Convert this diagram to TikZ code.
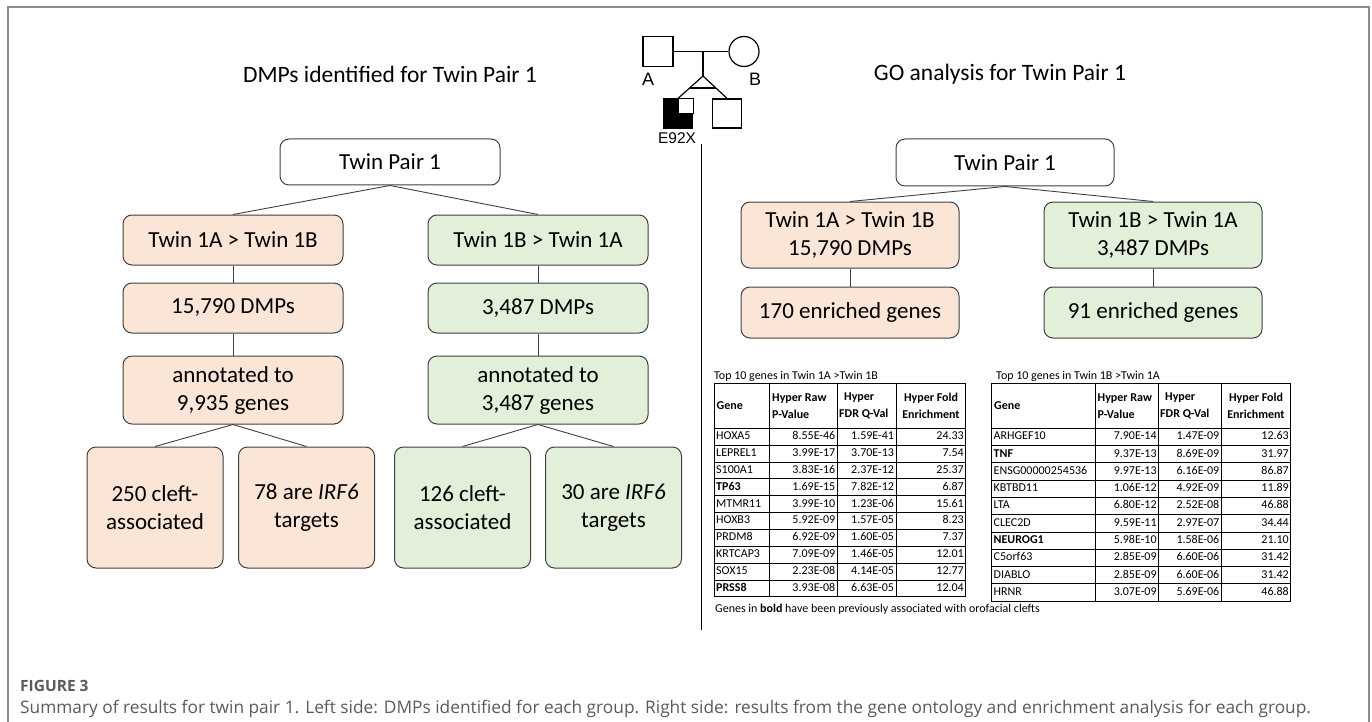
\documentclass[tikz,border=0pt]{standalone}
\usepackage{fontspec}
\setmainfont{Carlito}
\newfontfamily\pedfont{Liberation Sans}
\newfontfamily\capfont{Open Sans}
\usetikzlibrary{calc}
\definecolor{salmon}{HTML}{FBE5D6}
\definecolor{mint}{HTML}{E2F0D9}
\definecolor{edge}{HTML}{404040}
\definecolor{framegray}{HTML}{8C8C8C}
\definecolor{captext}{HTML}{5A5A5A}
\begin{document}
\begin{tikzpicture}[x=1pt,y=-1pt,
  box/.style={draw=edge, line width=1pt, rounded corners=9pt, align=center, inner sep=0pt,
              font=\fontsize{23}{28}\selectfont},
  plainbox/.style={box, fill=white},
  pinkbox/.style={box, fill=salmon},
  greenbox/.style={box, fill=mint},
  wide/.style={minimum width=220pt, minimum height=50pt},
  narrow/.style={minimum width=136pt, minimum height=121pt},
  link/.style={draw=edge, line width=0.9pt},
  ped/.style={draw=black, line width=1.2pt},
  heading/.style={font=\fontsize{23.5}{28}\selectfont},
  cell/.style={inner sep=0pt, text height=8.3pt, text depth=2.4pt, font=\fontsize{12}{14}\selectfont},
  headcell/.style={inner sep=0pt, font=\bfseries\fontsize{12}{17}\selectfont},
  tabline/.style={draw=black, line width=0.7pt},
]
\useasboundingbox (0,0) rectangle (1372,722);

% figure frame (open at the bottom)
\draw[framegray, line width=1.3pt] (8,722) -- (8,7) -- (1369,7) -- (1369,722);

% section headings
\node[heading] (ttlL) at (390,74) {DMPs identified for Twin Pair 1};
\node[heading] (ttlR) at (1000,74) {GO analysis for Twin Pair 1};

% ---------------- pedigree ----------------
\node[ped, minimum size=30pt, inner sep=0pt] (pA) at (658,51.5) {};
\node[ped, circle, minimum size=30pt, inner sep=0pt] (pB) at (744,51.5) {};
\draw[ped] (pA.east) -- (pB.west);
\coordinate (mate) at (703,51.5);
\coordinate (apex) at (703,76);
\node[ped, fill=black, minimum size=29pt, inner sep=0pt] (kid1) at (678,113.5) {};
\node[ped, minimum size=29pt, inner sep=0pt] (kid2) at (727,113.5) {};
\draw[ped, fill=white] (kid1.center) rectangle (kid1.north east);
\draw[ped] (mate) -- (apex);
\draw[ped] (apex) -- (kid1.north);
\draw[ped] (apex) -- (kid2.north);
\draw[ped] ($(apex)!0.535!(kid1.north)$) -- ($(apex)!0.535!(kid2.north)$);
\node[font=\pedfont\fontsize{18}{20}\selectfont] (labA) at (648,79) {A};
\node[font=\pedfont\fontsize{18}{20}\selectfont] (labB) at (755,79) {B};
\node[font=\pedfont\fontsize{15.5}{17}\selectfont] (labE) at (677,138) {E92X};
\coordinate (divTop) at (701.5,144);
\coordinate (divBot) at (701.5,630);
\draw[black, line width=1pt] (divTop) -- (divBot);

% ---------------- left tree: DMPs ----------------
\node[plainbox, minimum width=220pt, minimum height=46pt] (tpL) at (390,162) {Twin Pair 1};
\node[pinkbox, wide] (a1) at (233,240) {Twin 1A > Twin 1B};
\node[pinkbox, wide] (a2) at (233,308) {15,790 DMPs};
\node[pinkbox, wide, minimum height=68pt] (a3) at (233,390) {annotated to\\9,935 genes};
\node[pinkbox, narrow] (a4) at (155,507.5) {250 cleft-\\associated};
\node[pinkbox, narrow] (a5) at (306.5,507.5) {78 are \textit{IRF6}\\targets};

\node[greenbox, wide] (b1) at (538,240) {Twin 1B > Twin 1A};
\node[greenbox, wide] (b2) at (538,308) {3,487 DMPs};
\node[greenbox, wide, minimum height=68pt] (b3) at (538,390) {annotated to\\3,487 genes};
\node[greenbox, narrow] (b4) at (462.5,507.5) {126 cleft-\\associated};
\node[greenbox, narrow] (b5) at (613.5,507.5) {30 are \textit{IRF6}\\targets};

\draw[link] (tpL.south) -- (a1.north);
\draw[link] (tpL.south) -- (b1.north);
\draw[link] (a1) -- (a2);
\draw[link] (a2) -- (a3);
\draw[link] (a3.south) -- (a4.north);
\draw[link] (a3.south) -- (a5.north);
\draw[link] (b1) -- (b2);
\draw[link] (b2) -- (b3);
\draw[link] (b3.south) -- (b4.north);
\draw[link] (b3.south) -- (b5.north);

% ---------------- right tree: GO analysis ----------------
\node[plainbox, minimum width=218pt, minimum height=47pt] (tpR) at (1005,162.5) {Twin Pair 1};
\node[pinkbox, minimum width=218pt, minimum height=66pt, font=\fontsize{23}{28.5}\selectfont] (c1) at (850,235) {Twin 1A > Twin 1B\\15,790 DMPs};
\node[greenbox, minimum width=218pt, minimum height=66pt, font=\fontsize{23}{28.5}\selectfont] (c2) at (1153,235) {Twin 1B > Twin 1A\\3,487 DMPs};
\node[pinkbox, minimum width=218pt, minimum height=51pt] (c3) at (850,312.5) {170 enriched genes};
\node[greenbox, minimum width=218pt, minimum height=51pt] (c4) at (1153,312.5) {91 enriched genes};
\draw[link] (tpR.south) -- (c1.north);
\draw[link] (tpR.south) -- (c2.north);
\draw[link] (c1) -- (c3);
\draw[link] (c2) -- (c4);

% ---------------- table: Twin 1A > Twin 1B ----------------
\node[cell, anchor=west] (tabLttl) at (714,377) {Top 10 genes in Twin 1A >Twin 1B};
\draw[tabline] (714,383.3) rectangle (965.7,596.7);
\foreach \x in {769.3,837.3,896} \draw[tabline] (\x,383.3) -- (\x,596.7);
\foreach \k in {0,...,9} \draw[tabline] (714,{428.3+\k*16.84}) -- (965.7,{428.3+\k*16.84});
\node[headcell, anchor=west] (hL0) at (716.5,405.8) {Gene};
\node[headcell, anchor=west, align=left] (hL1) at (772,405.8) {Hyper Raw\\P-Value};
\node[headcell, anchor=west, align=left] (hL2) at (839,405.8) {\hspace{5pt}Hyper\\FDR Q-Val};
\node[headcell, align=center] (hL3) at (931,405.8) {Hyper Fold\\Enrichment};
\foreach \g/\p/\q/\f [count=\i] in {HOXA5/8.55E-46/1.59E-41/24.33,
    LEPREL1/3.99E-17/3.70E-13/7.54,
    S100A1/3.83E-16/2.37E-12/25.37,
    \textbf{TP63}/1.69E-15/7.82E-12/6.87,
    MTMR11/3.99E-10/1.23E-06/15.61,
    HOXB3/5.92E-09/1.57E-05/8.23,
    PRDM8/6.92E-09/1.60E-05/7.37,
    KRTCAP3/7.09E-09/1.46E-05/12.01,
    SOX15/2.23E-08/4.14E-05/12.77,
    \textbf{PRSS8}/3.93E-08/6.63E-05/12.04}{
  \pgfmathsetmacro\yy{428.3+(\i-0.5)*16.84}
  \node[cell, anchor=west] (gL\i) at (716,\yy) {\g};
  \node[cell, anchor=east] (pL\i) at (835.5,\yy) {\p};
  \node[cell, anchor=east] (qL\i) at (894.2,\yy) {\q};
  \node[cell, anchor=east] (fL\i) at (964,\yy) {\f};
}
\node[cell, anchor=west] (note) at (715,610) {Genes in \textbf{bold} have been previously associated with orofacial clefts};

% ---------------- table: Twin 1B > Twin 1A ----------------
\node[cell, anchor=west] (tabRttl) at (996,377) {Top 10 genes in Twin 1B >Twin 1A};
\draw[tabline] (991.7,383.3) rectangle (1290.7,601);
\foreach \x in {1095,1158.3,1221} \draw[tabline] (\x,383.3) -- (\x,601);
\foreach \k in {0,...,9} \draw[tabline] (991.7,{428.3+\k*17.27}) -- (1290.7,{428.3+\k*17.27});
\node[headcell, anchor=west] (hR0) at (994,405.8) {Gene};
\node[headcell, anchor=west, align=left] (hR1) at (1097.5,405.8) {Hyper Raw\\P-Value};
\node[headcell, anchor=west, align=left] (hR2) at (1160,405.8) {\hspace{5pt}Hyper\\FDR Q-Val};
\node[headcell, align=center] (hR3) at (1256,405.8) {Hyper Fold\\Enrichment};
\foreach \g/\p/\q/\f [count=\i] in {ARHGEF10/7.90E-14/1.47E-09/12.63,
    \textbf{TNF}/9.37E-13/8.69E-09/31.97,
    ENSG00000254536/9.97E-13/6.16E-09/86.87,
    KBTBD11/1.06E-12/4.92E-09/11.89,
    LTA/6.80E-12/2.52E-08/46.88,
    CLEC2D/9.59E-11/2.97E-07/34.44,
    \textbf{NEUROG1}/5.98E-10/1.58E-06/21.10,
    C5orf63/2.85E-09/6.60E-06/31.42,
    DIABLO/2.85E-09/6.60E-06/31.42,
    HRNR/3.07E-09/5.69E-06/46.88}{
  \pgfmathsetmacro\yy{428.3+(\i-0.5)*17.27}
  \node[cell, anchor=west] (gR\i) at (993.5,\yy) {\g};
  \node[cell, anchor=east] (pR\i) at (1156.8,\yy) {\p};
  \node[cell, anchor=east] (qR\i) at (1219.5,\yy) {\q};
  \node[cell, anchor=east] (fR\i) at (1289,\yy) {\f};
}

% ---------------- caption ----------------
\node[anchor=west, inner sep=0pt, text=captext, font=\capfont\bfseries\fontsize{15.5}{18}\selectfont] (figno) at (20,686) {FIGURE 3};
\node[anchor=west, inner sep=0pt, text=captext, font=\capfont\fontsize{17.3}{20}\selectfont] (caption) at (20,709) {Summary of results for twin pair 1. Left side: DMPs identified for each group. Right side: results from the gene ontology and enrichment analysis for each group.};
\end{tikzpicture}
\end{document}
